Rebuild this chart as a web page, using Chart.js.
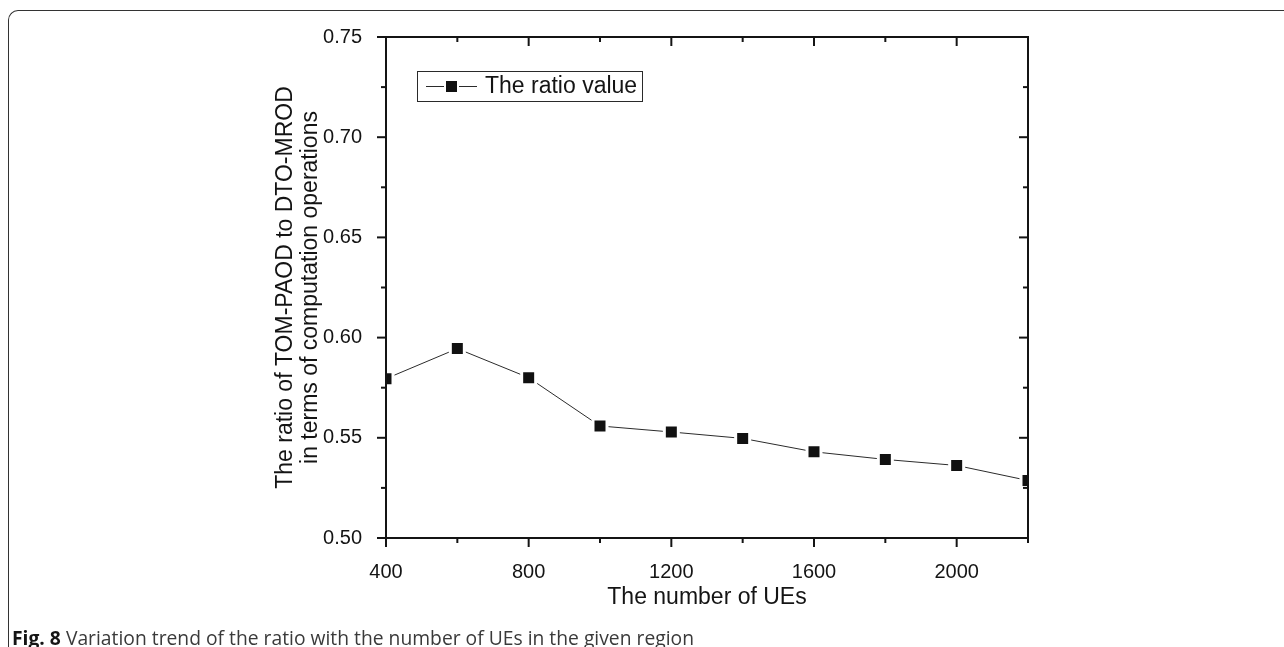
<!DOCTYPE html>
<html>
<head>
<meta charset="utf-8">
<script src="https://cdn.jsdelivr.net/npm/chart.js@4.4.1/dist/chart.umd.min.js"></script>
<style>
  html, body { margin: 0; padding: 0; background: #fff; overflow: hidden; }
  #wrap { position: relative; width: 1284px; height: 647px; }
  #box {
    position: absolute; left: 8px; top: 10px; width: 1320px; height: 700px;
    border-left: 1.5px solid #333; border-top: 1.5px solid #333;
    border-top-left-radius: 10px; box-sizing: border-box;
  }
  canvas { position: absolute; left: 0; top: 0; }
  #caption {
    position: absolute; left: 12px; top: 625px; white-space: nowrap;
    font-family: "Open Sans", sans-serif; font-size: 20px; line-height: 26px;
    color: #3a3a3a; transform-origin: 0 50%;
  }
  #caption b { color: #151515; }
</style>
</head>
<body>
<div id="wrap">
  <div id="box"></div>
  <canvas id="c" width="1284" height="647"></canvas>
  <div id="caption"><b>Fig. 8</b> Variation trend of the ratio with the number of UEs in the given region</div>
</div>
<script>
// Number of UEs and the measured ratio at each setting
const ueCounts    = [400, 600, 800, 1000, 1200, 1400, 1600, 1800, 2000, 2200];
const ratioValues = [0.5795, 0.5945, 0.580, 0.5559, 0.5529, 0.5497, 0.543, 0.5392, 0.5362, 0.5287];
const seriesLabel = 'The ratio value';

// Axis ticks and their labels
const xMajorTicks = [400, 800, 1200, 1600, 2000];
const xTickLabels = ['400', '800', '1200', '1600', '2000'];
const xMinorTicks = [600, 1000, 1400, 1800, 2200];
const yMajorTicks = [0.50, 0.55, 0.60, 0.65, 0.70, 0.75];
const yTickLabels = ['0.50', '0.55', '0.60', '0.65', '0.70', '0.75'];
const yMinorTicks = [0.525, 0.575, 0.625, 0.675, 0.725];

const xTitle = 'The number of UEs';
const yTitle = ['The ratio of TOM-PAOD to DTO-MROD', 'in terms of computation operations'];

const FONT = '"Liberation Sans", Arial, sans-serif';
const INK = '#141414';

// Closed axis frame with outward ticks on bottom/left and inward ticks on top/right
const axisFrame = {
  id: 'axisFrame',
  afterDatasetsDraw(chart) {
    const { ctx, chartArea: { left, right, top, bottom }, scales: { x, y } } = chart;
    ctx.save();
    ctx.strokeStyle = INK;
    ctx.lineWidth = 2;
    ctx.strokeRect(left, top, right - left, bottom - top);
    const seg = (x1, y1, x2, y2) => { ctx.beginPath(); ctx.moveTo(x1, y1); ctx.lineTo(x2, y2); ctx.stroke(); };
    const MAJ = 9, MIN = 5;
    xMajorTicks.forEach(v => { const p = x.getPixelForValue(v); seg(p, bottom, p, bottom + MAJ); seg(p, top, p, top + MAJ); });
    xMinorTicks.forEach(v => { const p = x.getPixelForValue(v); seg(p, bottom, p, bottom + MIN); seg(p, top, p, top + MIN); });
    yMajorTicks.forEach(v => { const p = y.getPixelForValue(v); seg(left - MAJ, p, left, p); seg(right - MAJ, p, right, p); });
    yMinorTicks.forEach(v => { const p = y.getPixelForValue(v); seg(left - MIN, p, left, p); seg(right - MIN, p, right, p); });
    ctx.restore();
  }
};

// Boxed legend: line + square marker + label
const boxedLegend = {
  id: 'boxedLegend',
  afterDraw(chart) {
    const { ctx, chartArea: { left, top } } = chart;
    const ds = chart.data.datasets[0];
    const bx = left + 31, by = top + 34, bw = 225, bh = 30;
    const cy = by + bh / 2;
    ctx.save();
    ctx.strokeStyle = '#2a2a2a';
    ctx.lineWidth = 1;
    ctx.strokeRect(bx + 0.5, by + 0.5, bw, bh);
    ctx.strokeStyle = ds.borderColor;
    ctx.beginPath(); ctx.moveTo(bx + 9, cy + 0.5); ctx.lineTo(bx + 60, cy + 0.5); ctx.stroke();
    ctx.fillStyle = '#fff';
    ctx.fillRect(bx + 27, cy - 7, 15, 15);
    ctx.fillStyle = ds.pointBackgroundColor;
    ctx.fillRect(bx + 29, cy - 5, 11, 11);
    ctx.fillStyle = INK;
    ctx.font = '23px ' + FONT;
    ctx.textBaseline = 'middle';
    ctx.textAlign = 'left';
    ctx.fillText(ds.label, bx + 68, cy + 1);
    ctx.restore();
  }
};

new Chart(document.getElementById('c'), {
  type: 'line',
  data: {
    datasets: [{
      label: seriesLabel,
      data: ueCounts.map((u, i) => ({ x: u, y: ratioValues[i] })),
      borderColor: '#2b2b2b',
      borderWidth: 1,
      pointStyle: 'rect',
      pointRadius: 9.9,
      pointBackgroundColor: '#111',
      pointBorderColor: '#fff',
      pointBorderWidth: 3,
      tension: 0,
      clip: 0
    }]
  },
  options: {
    responsive: false,
    animation: false,
    events: [],
    devicePixelRatio: 1,
    layout: { padding: { left: 273, top: 37, right: 256, bottom: 30 } },
    plugins: { legend: { display: false }, tooltip: { enabled: false } },
    scales: {
      x: {
        type: 'linear', min: 400, max: 2200,
        afterBuildTicks: s => { s.ticks = xMajorTicks.map(v => ({ value: v })); },
        afterFit: s => { s.height = 79; },
        grid: { display: false }, border: { display: false },
        ticks: { color: INK, font: { family: FONT, size: 20 }, padding: 14, maxRotation: 0, autoSkip: false,
                 callback: (v, i) => xTickLabels[i] },
        title: { display: true, text: xTitle, color: INK, font: { family: FONT, size: 23 }, padding: { top: 0, bottom: 6 } }
      },
      y: {
        type: 'linear', min: 0.5, max: 0.75,
        afterBuildTicks: s => { s.ticks = yMajorTicks.map(v => ({ value: v })); },
        afterFit: s => { s.width = 113; },
        grid: { display: false }, border: { display: false },
        ticks: { color: INK, font: { family: FONT, size: 20 }, padding: 16, autoSkip: false,
                 callback: (v, i) => yTickLabels[i] },
        title: { display: true, text: yTitle, color: INK, font: { family: FONT, size: 23, lineHeight: 25 / 23 },
                 padding: { top: 0, bottom: 0 } }
      }
    }
  },
  plugins: [axisFrame, boxedLegend]
});

// Fit the caption to its line width
document.fonts.ready.then(() => {
  const cap = document.getElementById('caption');
  const w = cap.getBoundingClientRect().width;
  cap.style.transform = 'scaleX(' + (682 / w).toFixed(4) + ')';
});
</script>
</body>
</html>
